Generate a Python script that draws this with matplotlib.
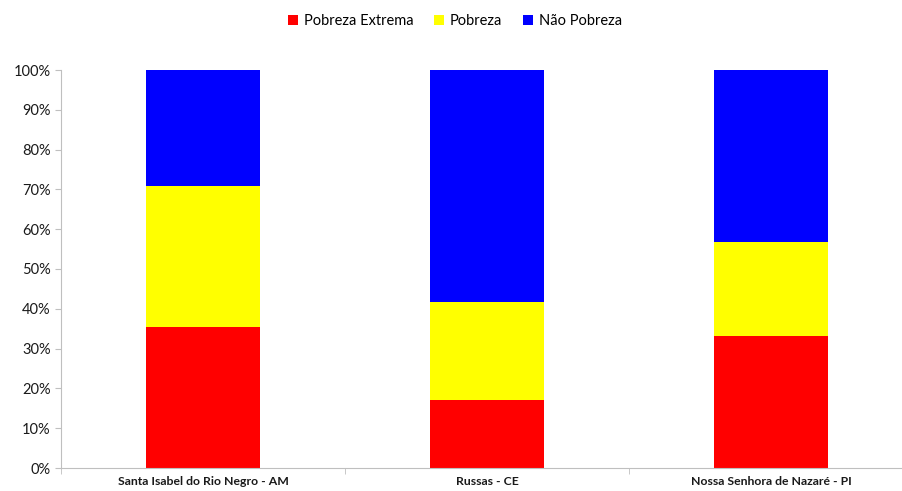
import matplotlib
matplotlib.use("Agg")
import matplotlib.pyplot as plt
from matplotlib.ticker import PercentFormatter, FixedLocator
import numpy as np

categories = ["Santa Isabel do Rio Negro - AM", "Russas - CE", "Nossa Senhora de Nazaré - PI"]
series_names = ["Pobreza Extrema", "Pobreza", "Não Pobreza"]
pobreza_extrema = [35.4, 17.1, 33.2]
pobreza = [35.5, 24.6, 23.6]
nao_pobreza = [29.1, 58.3, 43.2]
colors = ["#FF0000", "#FFFF00", "#0000FF"]

plt.rcParams['font.family'] = ['Lato', 'DejaVu Sans']

fig = plt.figure(figsize=(9.02, 4.91), dpi=100)
ax = fig.add_axes([61/902, 23/491, 852/902, 398/491])

x = np.arange(len(categories))
bottom = np.zeros(len(categories))
for name, vals, c in zip(series_names, [pobreza_extrema, pobreza, nao_pobreza], colors):
    ax.bar(x, vals, width=0.4, bottom=bottom, color=c, label=name)
    bottom += np.array(vals)

ax.set_xlim(-0.5, len(categories) - 0.5)
ax.set_ylim(0, 100)
ax.set_yticks(np.arange(0, 101, 10))
ax.yaxis.set_major_formatter(PercentFormatter(decimals=0))
ax.set_xticks(x)
ax.set_xticklabels(categories, fontsize=8.8, fontweight='bold', color='#1a1a1a')
ax.xaxis.set_minor_locator(FixedLocator(np.arange(-0.5, len(categories), 1.0)))
ax.tick_params(axis='x', which='major', length=0, pad=6)
ax.tick_params(axis='x', which='minor', length=4, color='#bfbfbf')
ax.tick_params(axis='y', labelsize=10.5, colors='#bfbfbf', labelcolor='#1a1a1a', length=4)
for s in ['top', 'right']:
    ax.spines[s].set_visible(False)
for s in ['left', 'bottom']:
    ax.spines[s].set_color('#bfbfbf')

fig.legend(loc='center', bbox_to_anchor=(455/902, 1 - 21/491), ncol=3, frameon=False,
           fontsize=10.5, handlelength=0.7, handleheight=0.7, columnspacing=1.4, handletextpad=0.4,
           borderpad=0)

fig.savefig("out.png", dpi=100)
